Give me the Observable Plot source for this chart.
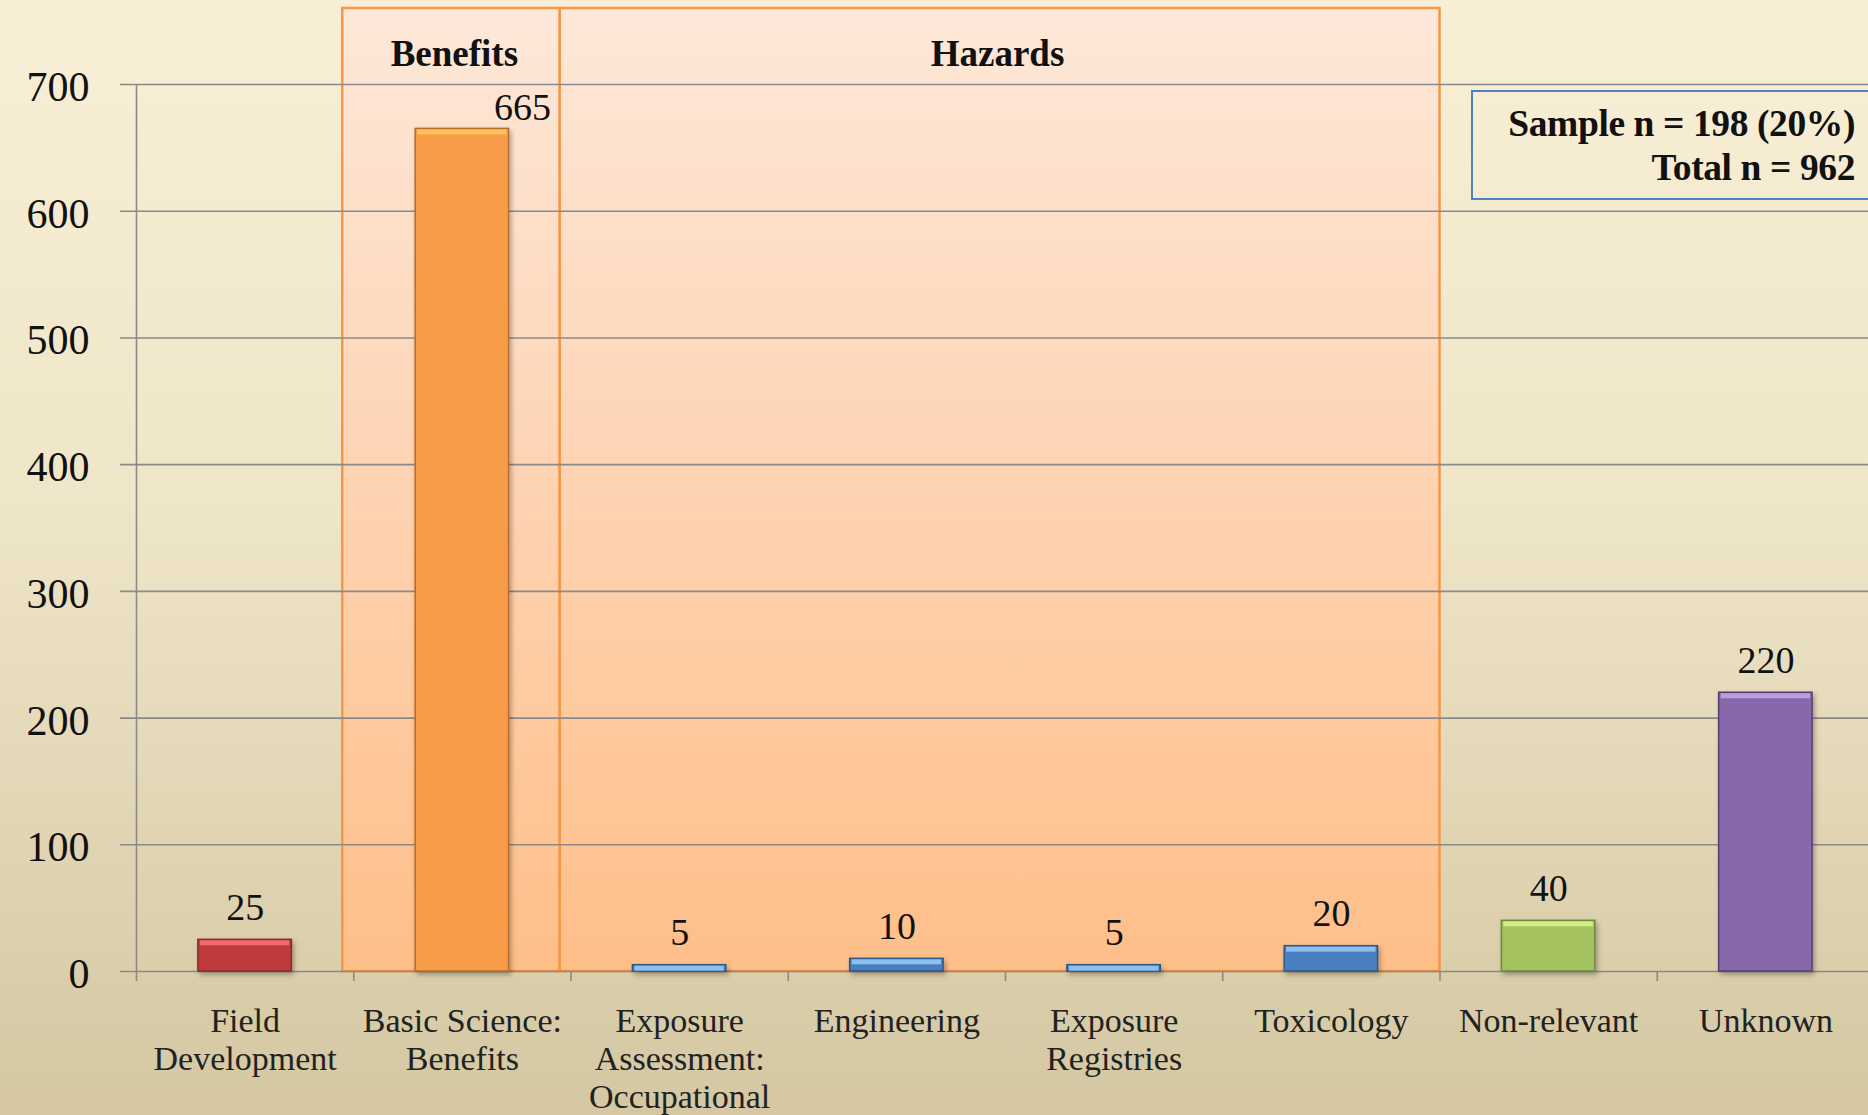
<!DOCTYPE html>
<html>
<head>
<meta charset="utf-8">
<script src="https://cdn.jsdelivr.net/npm/d3@7"></script>
<script src="https://cdn.jsdelivr.net/npm/@observablehq/plot@0.6"></script>
<style>
  html, body { margin: 0; padding: 0; width: 1868px; height: 1115px; overflow: hidden; }
  body { background: linear-gradient(to bottom, #f8efd6 0%, #efe5c8 45%, #d4c7a2 100%); position: relative; font-family: "Liberation Serif", serif; }
  #chart { position: absolute; left: 0; top: 0; width: 1874px; }
  #chart svg { max-width: none !important; }
  #note { position: absolute; left: 1471px; top: 90px; width: 440px; height: 110px; border: 2.5px solid #4f81bd; box-sizing: border-box; }
  #note div { width: 382px; text-align: right; font-weight: bold; font-size: 37.5px; line-height: 44px; color: #111; padding-top: 10px; letter-spacing: -0.4px; }
</style>
</head>
<body>
<div id="chart"></div>
<div id="note"><div>Sample n = 198 (20%)<br>Total n = 962</div></div>
<script>
// ---- data ----
const categories = ["Field\nDevelopment", "Basic Science:\nBenefits", "Exposure\nAssessment:\nOccupational", "Engineering", "Exposure\nRegistries", "Toxicology", "Non-relevant", "Unknown"];
const values = [25, 665, 5, 10, 5, 20, 40, 220];
const yTicks = [0, 100, 200, 300, 400, 500, 600, 700];
const groupNames = ["Benefits", "Hazards"];
const groupFirst = ["Basic Science:\nBenefits", "Exposure\nAssessment:\nOccupational"];
const groupLast = ["Basic Science:\nBenefits", "Toxicology"];

// ---- palette ----
const barFill = ["#c13a3d", "#f99c4a", "#4a7fc0", "#4a7fc0", "#4a7fc0", "#4a7fc0", "#a3c15e", "#8767aa"];
const barTop = ["#ee6a6d", "#ffc45e", "#8cc0f0", "#8cc0f0", "#8cc0f0", "#8cc0f0", "#d2ee86", "#bd9de0"];
const barEdge = ["#862a2c", "#b86a2a", "#2f5685", "#2f5685", "#2f5685", "#2f5685", "#6d8a3a", "#553f75"];

const rows = categories.map((c, i) => ({i, category: c, value: values[i], fill: barFill[i], top: barTop[i], edge: barEdge[i]}));
const groups = groupNames.map((g, k) => ({
  name: g,
  x1: categories.indexOf(groupFirst[k]),
  x2: categories.indexOf(groupLast[k]) + 1
}));

const halfWidth = 0.215;
const yMax = 760;

const plot = Plot.plot({
  width: 1874,
  height: 1115,
  marginLeft: 136,
  marginRight: 0,
  marginTop: 8,
  marginBottom: 144,
  style: {background: "transparent", fontFamily: "Liberation Serif, serif", overflow: "visible", maxWidth: "none"},
  x: {type: "linear", domain: [0, categories.length], axis: null},
  y: {domain: [0, yMax], axis: null},
  color: {type: "identity"},
  marks: [
    // group boxes
    Plot.rect(groups.filter(g => g.name === "Hazards"), {x1: "x1", x2: "x2", y1: 0, y2: yMax, fill: "url(#boxGrad)", stroke: "#f79646", strokeWidth: 2.5, insetLeft: -11}),
    Plot.rect(groups.filter(g => g.name === "Benefits"), {x1: "x1", x2: "x2", y1: 0, y2: yMax, fill: "url(#boxGrad)", stroke: "#f79646", strokeWidth: 2.5, insetLeft: -11, insetRight: 11}),
    // gridlines
    Plot.ruleY(yTicks, {stroke: "#8a8a8a", strokeWidth: 1.6, insetLeft: -16}),
    // y axis line
    Plot.ruleX([0], {y1: 0, y2: d3.max(yTicks), stroke: "#8a8a8a", strokeWidth: 1.6}),
    // x ticks at category boundaries
    Plot.axisX(d3.range(categories.length + 1), {anchor: "bottom", tickSize: 10, tickFormat: () => "", stroke: "#8a8a8a", strokeWidth: 1.6}),
    // bars
    Plot.rect(rows, {x1: d => d.i + 0.5 - halfWidth, x2: d => d.i + 0.5 + halfWidth, y1: 0, y2: "value", fill: "fill", stroke: "edge", strokeWidth: 1.5}),
    Plot.rect(rows, {x1: d => d.i + 0.5 - halfWidth, x2: d => d.i + 0.5 + halfWidth, y1: "value", y2: "value", fill: "top", insetBottom: -6, insetLeft: 2, insetRight: 2, insetTop: 1}),
    // value labels
    Plot.text(rows.filter(d => d.value < 600), {x: d => d.i + 0.5, y: "value", text: d => String(d.value), lineAnchor: "bottom", dy: -20, fontSize: 38, fill: "#111"}),
    Plot.text(rows.filter(d => d.value >= 600), {x: d => d.i + 0.5, y: "value", text: d => String(d.value), lineAnchor: "bottom", dy: -9, dx: 60, fontSize: 38, fill: "#111"}),
    // y tick labels
    Plot.text(yTicks, {x: 0, y: d => d, text: d => String(d), textAnchor: "end", dx: -47, dy: 3, fontSize: 42, fill: "#111"}),
    // x category labels
    Plot.text(rows, {x: d => d.i + 0.5, y: 0, text: "category", lineAnchor: "top", dy: 33, lineHeight: 1.12, fontSize: 34, fill: "#222"}),
    // group titles
    Plot.text(groups, {x: d => (d.x1 + d.x2) / 2, frameAnchor: "top", dy: 46, dx: -8, lineAnchor: "middle", text: "name", fontSize: 37, fontWeight: "bold", fill: "#111"})
  ]
});

plot.style.maxWidth = "none";
const svg = d3.select(plot);
const defs = svg.insert("defs", ":first-child");
const g = defs.append("linearGradient").attr("id", "boxGrad").attr("x1", 0).attr("y1", 0).attr("x2", 0).attr("y2", 1);
g.append("stop").attr("offset", "0%").attr("stop-color", "#fde8d9");
g.append("stop").attr("offset", "50%").attr("stop-color", "#fed3b2");
g.append("stop").attr("offset", "100%").attr("stop-color", "#febf89");
const f = defs.append("filter").attr("id", "barShadow").attr("x", "-20%").attr("y", "-20%").attr("width", "150%").attr("height", "150%");
f.append("feDropShadow").attr("dx", 2).attr("dy", 3).attr("stdDeviation", 2.5).attr("flood-color", "#000").attr("flood-opacity", 0.3);
const rectGroups = svg.selectAll('g[aria-label="rect"]').nodes();
if (rectGroups[2]) d3.select(rectGroups[2]).attr("filter", "url(#barShadow)");

document.getElementById("chart").appendChild(plot);
</script>
</body>
</html>
